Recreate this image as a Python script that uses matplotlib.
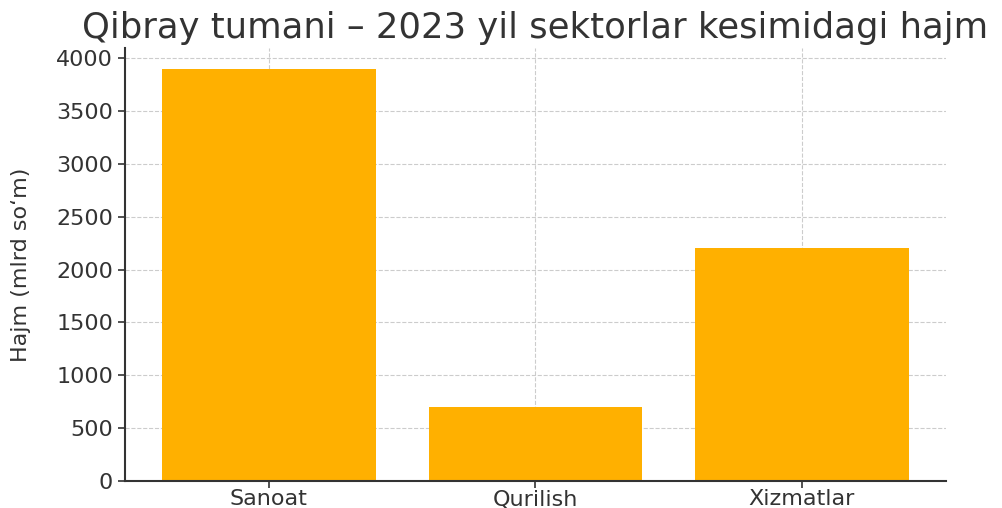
import matplotlib
matplotlib.use("Agg")
import matplotlib.pyplot as plt

sectors = ["Sanoat", "Qurilish", "Xizmatlar"]
volumes = [3900, 700, 2200]

plt.rcParams['font.family'] = ['DejaVu Sans']
text_color = '#333333'

fig = plt.figure(figsize=(10.03, 5.08), dpi=100)
ax = fig.add_axes([0.1246, 0.053, 0.8185, 0.8525])

ax.bar(sectors, volumes, color='#FFB000', width=0.8, zorder=2)

ax.set_title("Qibray tumani – 2023 yil sektorlar kesimidagi hajm",
             fontsize=25.5, color=text_color, pad=7)
ax.set_ylabel("Hajm (mlrd so‘m)", fontsize=16, color=text_color, labelpad=18)
ax.set_yticks(range(0, 4001, 500))

ax.grid(True, linestyle='--', color='#cccccc', linewidth=0.8, zorder=0)
ax.set_axisbelow(True)
for side in ['top', 'right']:
    ax.spines[side].set_visible(False)
for side in ['left', 'bottom']:
    ax.spines[side].set_color(text_color)
    ax.spines[side].set_linewidth(1.5)
ax.tick_params(axis='both', labelsize=16, colors=text_color, length=5, width=1.2)
ax.tick_params(axis='x', pad=1)

fig.savefig("out.png", dpi=100)
